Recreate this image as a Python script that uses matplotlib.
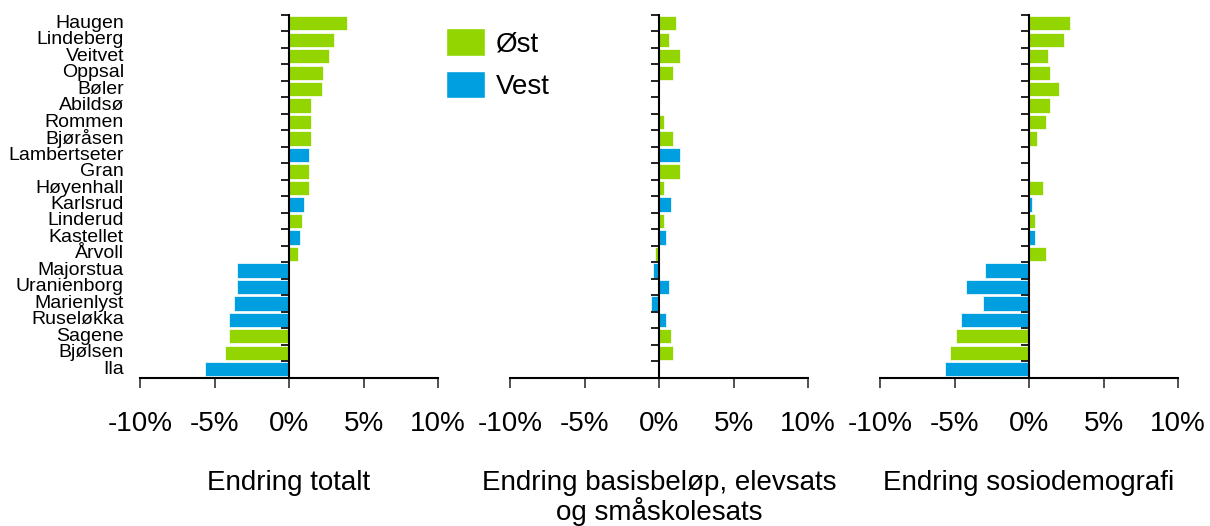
import numpy as np
import matplotlib
matplotlib.use("Agg")
import matplotlib.pyplot as plt
from matplotlib.patches import Patch

plt.rcParams['font.family'] = ['Liberation Sans', 'DejaVu Sans']

schools = ["Haugen", "Lindeberg", "Veitvet", "Oppsal", "Bøler", "Abildsø", "Rommen",
           "Bjøråsen", "Lambertseter", "Gran", "Høyenhall", "Karlsrud", "Linderud",
           "Kastellet", "Årvoll", "Majorstua", "Uranienborg", "Marienlyst", "Ruseløkka",
           "Sagene", "Bjølsen", "Ila"]
region = ["Øst", "Øst", "Øst", "Øst", "Øst", "Øst", "Øst",
          "Øst", "Vest", "Øst", "Øst", "Vest", "Øst",
          "Vest", "Øst", "Vest", "Vest", "Vest", "Vest",
          "Øst", "Øst", "Vest"]

# Percent change per school
endring_totalt = [3.9, 3.04, 2.68, 2.3, 2.19, 1.48, 1.48, 1.48, 1.34, 1.34, 1.34,
                  0.98, 0.87, 0.74, 0.6, -3.47, -3.47, -3.69, -4.05, -4.05, -4.3, -5.64]
endring_basis = [1.16, 0.67, 1.41, 0.92, 0.0, 0.0, 0.31, 0.92, 1.41, 1.41, 0.31,
                 0.78, 0.31, 0.45, -0.3, -0.42, 0.67, -0.54, 0.45, 0.78, 0.92, 0.0]
endring_sosio = [2.73, 2.37, 1.28, 1.41, 2.01, 1.41, 1.16, 0.54, 0.0, 0.0, 0.92,
                 0.18, 0.42, 0.42, 1.16, -2.97, -4.2, -3.09, -4.56, -4.92, -5.28, -5.66]

panel_titles = ["Endring totalt", "Endring basisbeløp, elevsats\nog småskolesats",
                "Endring sosiodemografi"]
tick_values = [-10, -5, 0, 5, 10]
tick_labels = ["-10%", "-5%", "0%", "5%", "10%"]

colors = {"Øst": "#93D500", "Vest": "#009FDF"}

W, H = 1210, 526
fig = plt.figure(figsize=(W / 100, H / 100), dpi=100)

lefts = [140, 510, 880]
ax_w = 298
top_px, bot_px = 15, 377.5
n = len(schools)
ypos = np.arange(n)
bar_colors = [colors[r] for r in region]

for i, (vals, title) in enumerate(zip([endring_totalt, endring_basis, endring_sosio], panel_titles)):
    ax = fig.add_axes([lefts[i] / W, 1 - bot_px / H, ax_w / W, (bot_px - top_px) / H])
    ax.barh(ypos, vals, height=0.87, color=bar_colors, edgecolor="white", linewidth=0.5)
    ax.set_xlim(-10, 10)
    ax.set_ylim(n - 0.5, -0.5)
    for s in ["top", "right"]:
        ax.spines[s].set_visible(False)
    ax.spines["left"].set_position(("data", 0))
    ax.spines["left"].set_linewidth(1.5)
    ax.spines["bottom"].set_linewidth(1.5)
    ax.set_yticks(np.arange(n + 1) - 0.5)
    ax.set_yticklabels([])
    ax.tick_params(axis="y", direction="out", length=6, width=1.3, color="#111111")
    ax.set_xticks(tick_values)
    ax.set_xticklabels(tick_labels, fontsize=20)
    ax.tick_params(axis="x", direction="out", length=7.5, width=1.1, pad=16.5, color="#222222")
    ax.set_xlabel(title, fontsize=20, labelpad=24, linespacing=1.05)
    if i == 0:
        ytr = ax.get_yaxis_transform()
        for y, name in zip(ypos, schools):
            ax.text(-0.054, y, name, transform=ytr, ha="right", va="center",
                    fontsize=14, linespacing=1.0)

handles = [Patch(facecolor=colors["Øst"], edgecolor="white", label="Øst"),
           Patch(facecolor=colors["Vest"], edgecolor="white", label="Vest")]
fig.legend(handles=handles, loc="upper left", bbox_to_anchor=(421 / W, 1 - 3 / H),
           frameon=False, fontsize=20, handlelength=1.4, handleheight=1.15,
           handletextpad=0.4, labelspacing=0.48)

fig.savefig("out.png", dpi=100)
